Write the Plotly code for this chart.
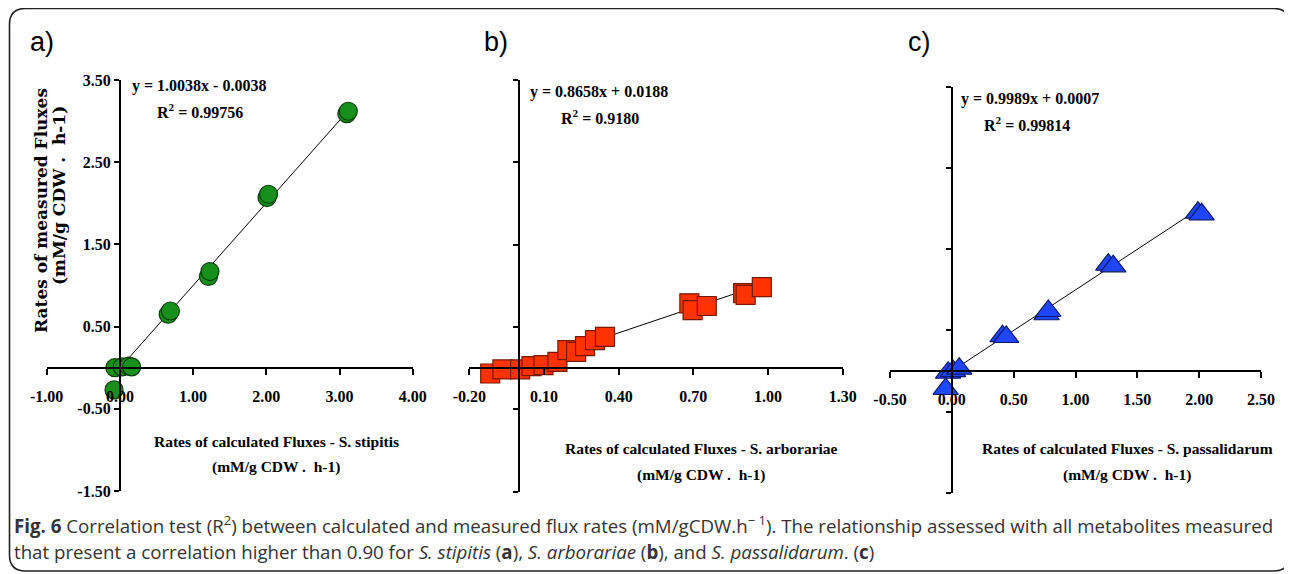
import plotly.graph_objects as go

# The page body keeps the browser's default 8px margin, so the figure is drawn
# 8px smaller and all layout pixel positions are given in window coordinates.
OFF = 8
W, H = 1292 - OFF, 574 - OFF

# ---------------- data ----------------
# Panel a - S. stipitis
x_a = [-0.07, 0.03, 0.12, 0.16, -0.08, 0.66, 0.69, 1.21, 1.23, 2.01, 2.03, 3.10, 3.12]
y_a = [0.00, 0.01, 0.02, 0.01, -0.27, 0.65, 0.69, 1.11, 1.17, 2.07, 2.11, 3.09, 3.12]
# Panel b - S. arborariae
x_b = [-0.116, -0.067, 0.004, 0.05, 0.098, 0.154, 0.194, 0.229, 0.265, 0.305, 0.345,
       0.684, 0.697, 0.754, 0.90, 0.91, 0.975]
y_b = [-0.055, -0.013, -0.013, 0.021, 0.031, 0.065, 0.187, 0.169, 0.228, 0.29, 0.324,
       0.67, 0.60, 0.642, 0.774, 0.756, 0.836]
# Panel c - S. passalidarum
x_c = [-0.05, -0.03, 0.01, 0.06, 0.41, 0.44, 0.766, 0.78, 1.265, 1.305, 1.99, 2.02]
y_c = [-0.22, -0.02, 0.00, 0.03, 0.43, 0.42, 0.70, 0.74, 1.31, 1.29, 1.95, 1.93]

slopes = [1.0038, 0.8658, 0.9989]
intercepts = [-0.0038, 0.0188, 0.0007]
equations = ["y = 1.0038x - 0.0038", "y = 0.8658x + 0.0188", "y = 0.9989x + 0.0007"]
r2_texts = ["R<sup>2</sup> = 0.99756", "R<sup>2</sup> = 0.9180", "R<sup>2</sup> = 0.99814"]
panel_labels = ["a)", "b)", "c)"]
species = ["S. stipitis", "S. arborariae", "S. passalidarum"]

xticks_a = [-1.0, 0.0, 1.0, 2.0, 3.0, 4.0]
xticks_b = [-0.2, 0.1, 0.4, 0.7, 1.0, 1.3]
xticks_c = [-0.5, 0.0, 0.5, 1.0, 1.5, 2.0, 2.5]
yticks = [-1.5, -0.5, 0.5, 1.5, 2.5, 3.5]
yscale_b = 0.85  # panel b y axis has its own (unlabelled) scale

# ---------------- styling / layout ----------------
def px_x(p):
    return (p - OFF) / W

def px_y(p):
    return 1 - (p - OFF) / H

panels = [
    dict(x=x_a, y=y_a, xt=xticks_a, yt=yticks, ylab=True,
         xdom=(46.7, 412.7), ydom=(491, 80),
         sym="circle", size=18, fill="#16901a", edge="#0b3d0b",
         eq=(130, 86), r2=(155, 111), lab=(28, 42), xtitle=276, xty=(441, 467)),
    dict(x=x_b, y=y_b, xt=xticks_b, yt=[v * yscale_b for v in yticks], ylab=False,
         xdom=(469.3, 842.7), ydom=(491.7, 80),
         sym="square", size=19, fill="#ff3300", edge="#7a1800",
         eq=(528, 92), r2=(559, 117), lab=(482, 42), xtitle=701, xty=(448, 475)),
    dict(x=x_c, y=y_c, xt=xticks_c, yt=yticks, ylab=False,
         xdom=(890, 1261), ydom=(493, 86.7),
         sym="triangle-up", size=22, fill="#1f45ff", edge="#0a1a66",
         eq=(959, 99), r2=(982, 124), lab=(906, 42), xtitle=1127, xty=(448, 475)),
]

fig = go.Figure()
serif = "Liberation Serif, DejaVu Serif, serif"
tick_font = dict(family=serif, size=16, color="black", weight=700)
annotations = []
layout_axes = {}

for i, p in enumerate(panels):
    n = "" if i == 0 else str(i + 1)
    xr = (p["xt"][0], p["xt"][-1])
    yr = (p["yt"][0], p["yt"][-1])
    xd = (px_x(p["xdom"][0]), px_x(p["xdom"][1]))
    yd = (px_y(p["ydom"][0]), px_y(p["ydom"][1]))
    xpos = yd[0] + (0 - yr[0]) / (yr[1] - yr[0]) * (yd[1] - yd[0])
    ypos = xd[0] + (0 - xr[0]) / (xr[1] - xr[0]) * (xd[1] - xd[0])

    # trend line from the regression equation
    xmin, xmax = min(p["x"]), max(p["x"])
    fig.add_trace(go.Scatter(
        x=[xmin, xmax],
        y=[slopes[i] * xmin + intercepts[i], slopes[i] * xmax + intercepts[i]],
        mode="lines", line=dict(color="black", width=1),
        xaxis="x" + n, yaxis="y" + n, showlegend=False, hoverinfo="skip"))
    fig.add_trace(go.Scatter(
        x=p["x"], y=p["y"], mode="markers",
        marker=dict(symbol=p["sym"], size=p["size"], color=p["fill"],
                    line=dict(color=p["edge"], width=1.2)),
        xaxis="x" + n, yaxis="y" + n, showlegend=False))

    layout_axes["xaxis" + n] = dict(
        domain=list(xd), range=list(xr), anchor="free", position=xpos, side="bottom",
        tickmode="array", tickvals=p["xt"], ticktext=[f"{v:.2f}" for v in p["xt"]],
        showline=True, linecolor="black", linewidth=2, ticks="outside", ticklen=6,
        tickwidth=2, tickcolor="black", showgrid=False, zeroline=False, automargin=False,
        tickfont=tick_font, ticklabelstandoff=8, fixedrange=True)
    layout_axes["yaxis" + n] = dict(
        domain=list(yd), range=list(yr), anchor="free", position=ypos, side="left",
        tickmode="array", tickvals=p["yt"],
        ticktext=[f"{v:.2f}" for v in yticks], showticklabels=p["ylab"],
        showline=True, linecolor="black", linewidth=2, ticks="outside", ticklen=5,
        tickwidth=2, tickcolor="black", showgrid=False, zeroline=False, automargin=False,
        tickfont=tick_font, fixedrange=True)

    eq_font = dict(family=serif, size=16, color="black", weight=700)
    annotations.append(dict(x=px_x(p["eq"][0]), y=px_y(p["eq"][1]), xref="paper", yref="paper",
                            text=equations[i], showarrow=False, xanchor="left", yanchor="middle",
                            font=eq_font))
    annotations.append(dict(x=px_x(p["r2"][0]), y=px_y(p["r2"][1]), xref="paper", yref="paper",
                            text=r2_texts[i], showarrow=False, xanchor="left", yanchor="middle",
                            font=eq_font))
    annotations.append(dict(x=px_x(p["lab"][0]), y=px_y(p["lab"][1]), xref="paper", yref="paper",
                            text=panel_labels[i], showarrow=False, xanchor="left", yanchor="middle",
                            font=dict(family="Liberation Sans, Arial, sans-serif", size=27, color="black")))
    title_font = dict(family=serif, size=15.5, color="black", weight=700)
    annotations.append(dict(x=px_x(p["xtitle"]), y=px_y(p["xty"][0]), xref="paper", yref="paper",
                            text="Rates of calculated Fluxes - " + species[i], showarrow=False,
                            xanchor="center", yanchor="middle", font=title_font))
    annotations.append(dict(x=px_x(p["xtitle"]), y=px_y(p["xty"][1]), xref="paper", yref="paper",
                            text="(mM/g CDW .  h-1)", showarrow=False,
                            xanchor="center", yanchor="middle", font=title_font))

# y axis title of panel a (two rotated lines)
ytitle_font = dict(family="DejaVu Serif, serif", size=17, color="black", weight=700)
annotations.append(dict(x=px_x(41), y=px_y(211), xref="paper", yref="paper",
                        text="Rates of measured Fluxes", textangle=-90, showarrow=False,
                        xanchor="center", yanchor="middle", font=ytitle_font))
annotations.append(dict(x=px_x(59), y=px_y(196), xref="paper", yref="paper",
                        text="(mM/g CDW .  h-1)", textangle=-90, showarrow=False,
                        xanchor="center", yanchor="middle", font=ytitle_font))

# caption
cap_font = dict(family="Open Sans, Noto Sans, sans-serif", size=18.7, color="#333333")
annotations.append(dict(
    x=px_x(12), y=px_y(524), xref="paper", yref="paper", showarrow=False,
    xanchor="left", yanchor="middle", font=cap_font,
    text="<b>Fig. 6</b> Correlation test (R<sup>2</sup>) between calculated and measured flux rates "
         "(mM/gCDW.h<sup>− 1</sup>). The relationship assessed with all metabolites measured"))
annotations.append(dict(
    x=px_x(12), y=px_y(551), xref="paper", yref="paper", showarrow=False,
    xanchor="left", yanchor="middle", font=cap_font,
    text="that present a correlation higher than 0.90 for <i>S. stipitis</i> (<b>a</b>), "
         "<i>S. arborariae</i> (<b>b</b>), and <i>S. passalidarum</i>. (<b>c</b>)"))

# rounded border frame
L, R, T, B, r = 9.5, 1289.5, 8.5, 571, 16
def P(x, y):
    return f"{px_x(x):.5f},{px_y(y):.5f}"
path = (f"M {P(L + r, T)} L {P(R - r, T)} Q {P(R, T)} {P(R, T + r)} "
        f"L {P(R, B - r)} Q {P(R, B)} {P(R - r, B)} L {P(L + r, B)} Q {P(L, B)} {P(L, B - r)} "
        f"L {P(L, T + r)} Q {P(L, T)} {P(L + r, T)} Z")

fig.update_layout(
    width=W, height=H, margin=dict(l=0, r=0, t=0, b=0, autoexpand=False),
    paper_bgcolor="white", plot_bgcolor="rgba(0,0,0,0)",
    annotations=annotations,
    shapes=[dict(type="path", xref="paper", yref="paper", path=path,
                 line=dict(color="#222222", width=1.6), fillcolor="rgba(0,0,0,0)", layer="below")],
    **layout_axes)

fig.write_html("out.html", config={"displayModeBar": False})
